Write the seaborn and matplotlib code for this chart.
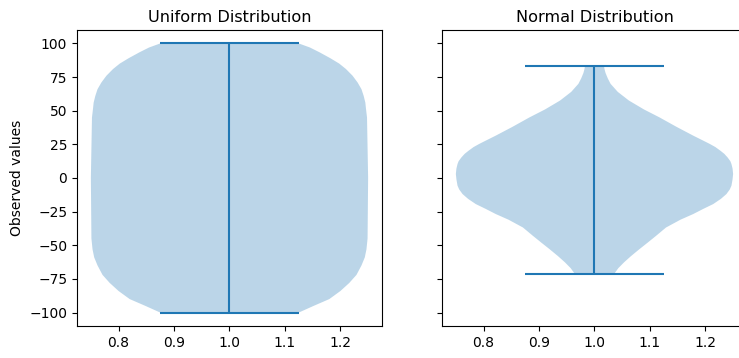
import numpy as np
import matplotlib
matplotlib.use("Agg")
import matplotlib.pyplot as plt
import seaborn as sns

# Violin outlines: y value and half-width of the body
uniform_y = [-100, -95, -90, -84, -78, -72, -65, -59, -53, -45, 0,
             45, 52, 56, 61, 66, 71, 76, 81, 85, 89, 93.5, 97, 100]
uniform_hw = [0.125, 0.152, 0.180, 0.200, 0.216, 0.229, 0.238, 0.244, 0.247, 0.249, 0.250,
              0.248, 0.246, 0.245, 0.242, 0.238, 0.231, 0.222, 0.210, 0.198, 0.182, 0.162, 0.145, 0.125]

normal_y = [-71.5, -67, -62.8, -58, -52.9, -48, -43, -36.8, -31, -26.8, -23, -19.4, -15.5,
            -11.9, -8.5, -5.7, -1, 3, 7, 10.4, 12.5, 15.3, 18, 20.3, 23, 25.3, 28, 31.5,
            38, 45.1, 51, 57.6, 64, 70, 74, 78, 81, 83.6]
normal_hw = [0.035, 0.043, 0.053, 0.066, 0.081, 0.096, 0.111, 0.129, 0.155, 0.178, 0.196,
             0.214, 0.228, 0.238, 0.244, 0.247, 0.249, 0.250, 0.249, 0.247, 0.245, 0.240,
             0.234, 0.227, 0.218, 0.208, 0.195, 0.178, 0.148, 0.117, 0.089, 0.062, 0.042,
             0.029, 0.024, 0.020, 0.018, 0.017]

titles = ["Uniform Distribution", "Normal Distribution"]
xticks = [0.8, 0.9, 1.0, 1.1, 1.2]
yticks = [-100, -75, -50, -25, 0, 25, 50, 75, 100]

color = sns.color_palette("tab10")[0]


def make_stats(y, hw):
    y = np.asarray(y, dtype=float)
    hw = np.asarray(hw, dtype=float)
    return {"coords": y, "vals": hw, "mean": y.mean(), "median": np.median(y),
            "min": y.min(), "max": y.max()}


fig = plt.figure(figsize=(7.39, 3.58), dpi=100)
ax1 = fig.add_axes([0.1042, 0.0894, 0.4127, 0.8268])
ax2 = fig.add_axes([0.5981, 0.0894, 0.4127, 0.8268], sharey=ax1)

for ax, (y, hw), title in zip([ax1, ax2], [(uniform_y, uniform_hw), (normal_y, normal_hw)], titles):
    parts = ax.violin([make_stats(y, hw)], positions=[1], widths=0.5)
    for body in parts["bodies"]:
        body.set_facecolor(color)
        body.set_edgecolor("none")
        body.set_alpha(0.3)
    for key in ["cmaxes", "cmins", "cbars"]:
        parts[key].set_color(color)
        parts[key].set_linewidth(1.5)
    ax.set_title(title, fontsize=11.6)
    ax.set_xticks(xticks)
    ax.set_xlim(0.725, 1.275)

ax1.set_ylim(-110, 110)
ax1.set_yticks(yticks)
ax1.set_ylabel("Observed values")
plt.setp(ax2.get_yticklabels(), visible=False)

fig.savefig("out.png", dpi=100)
